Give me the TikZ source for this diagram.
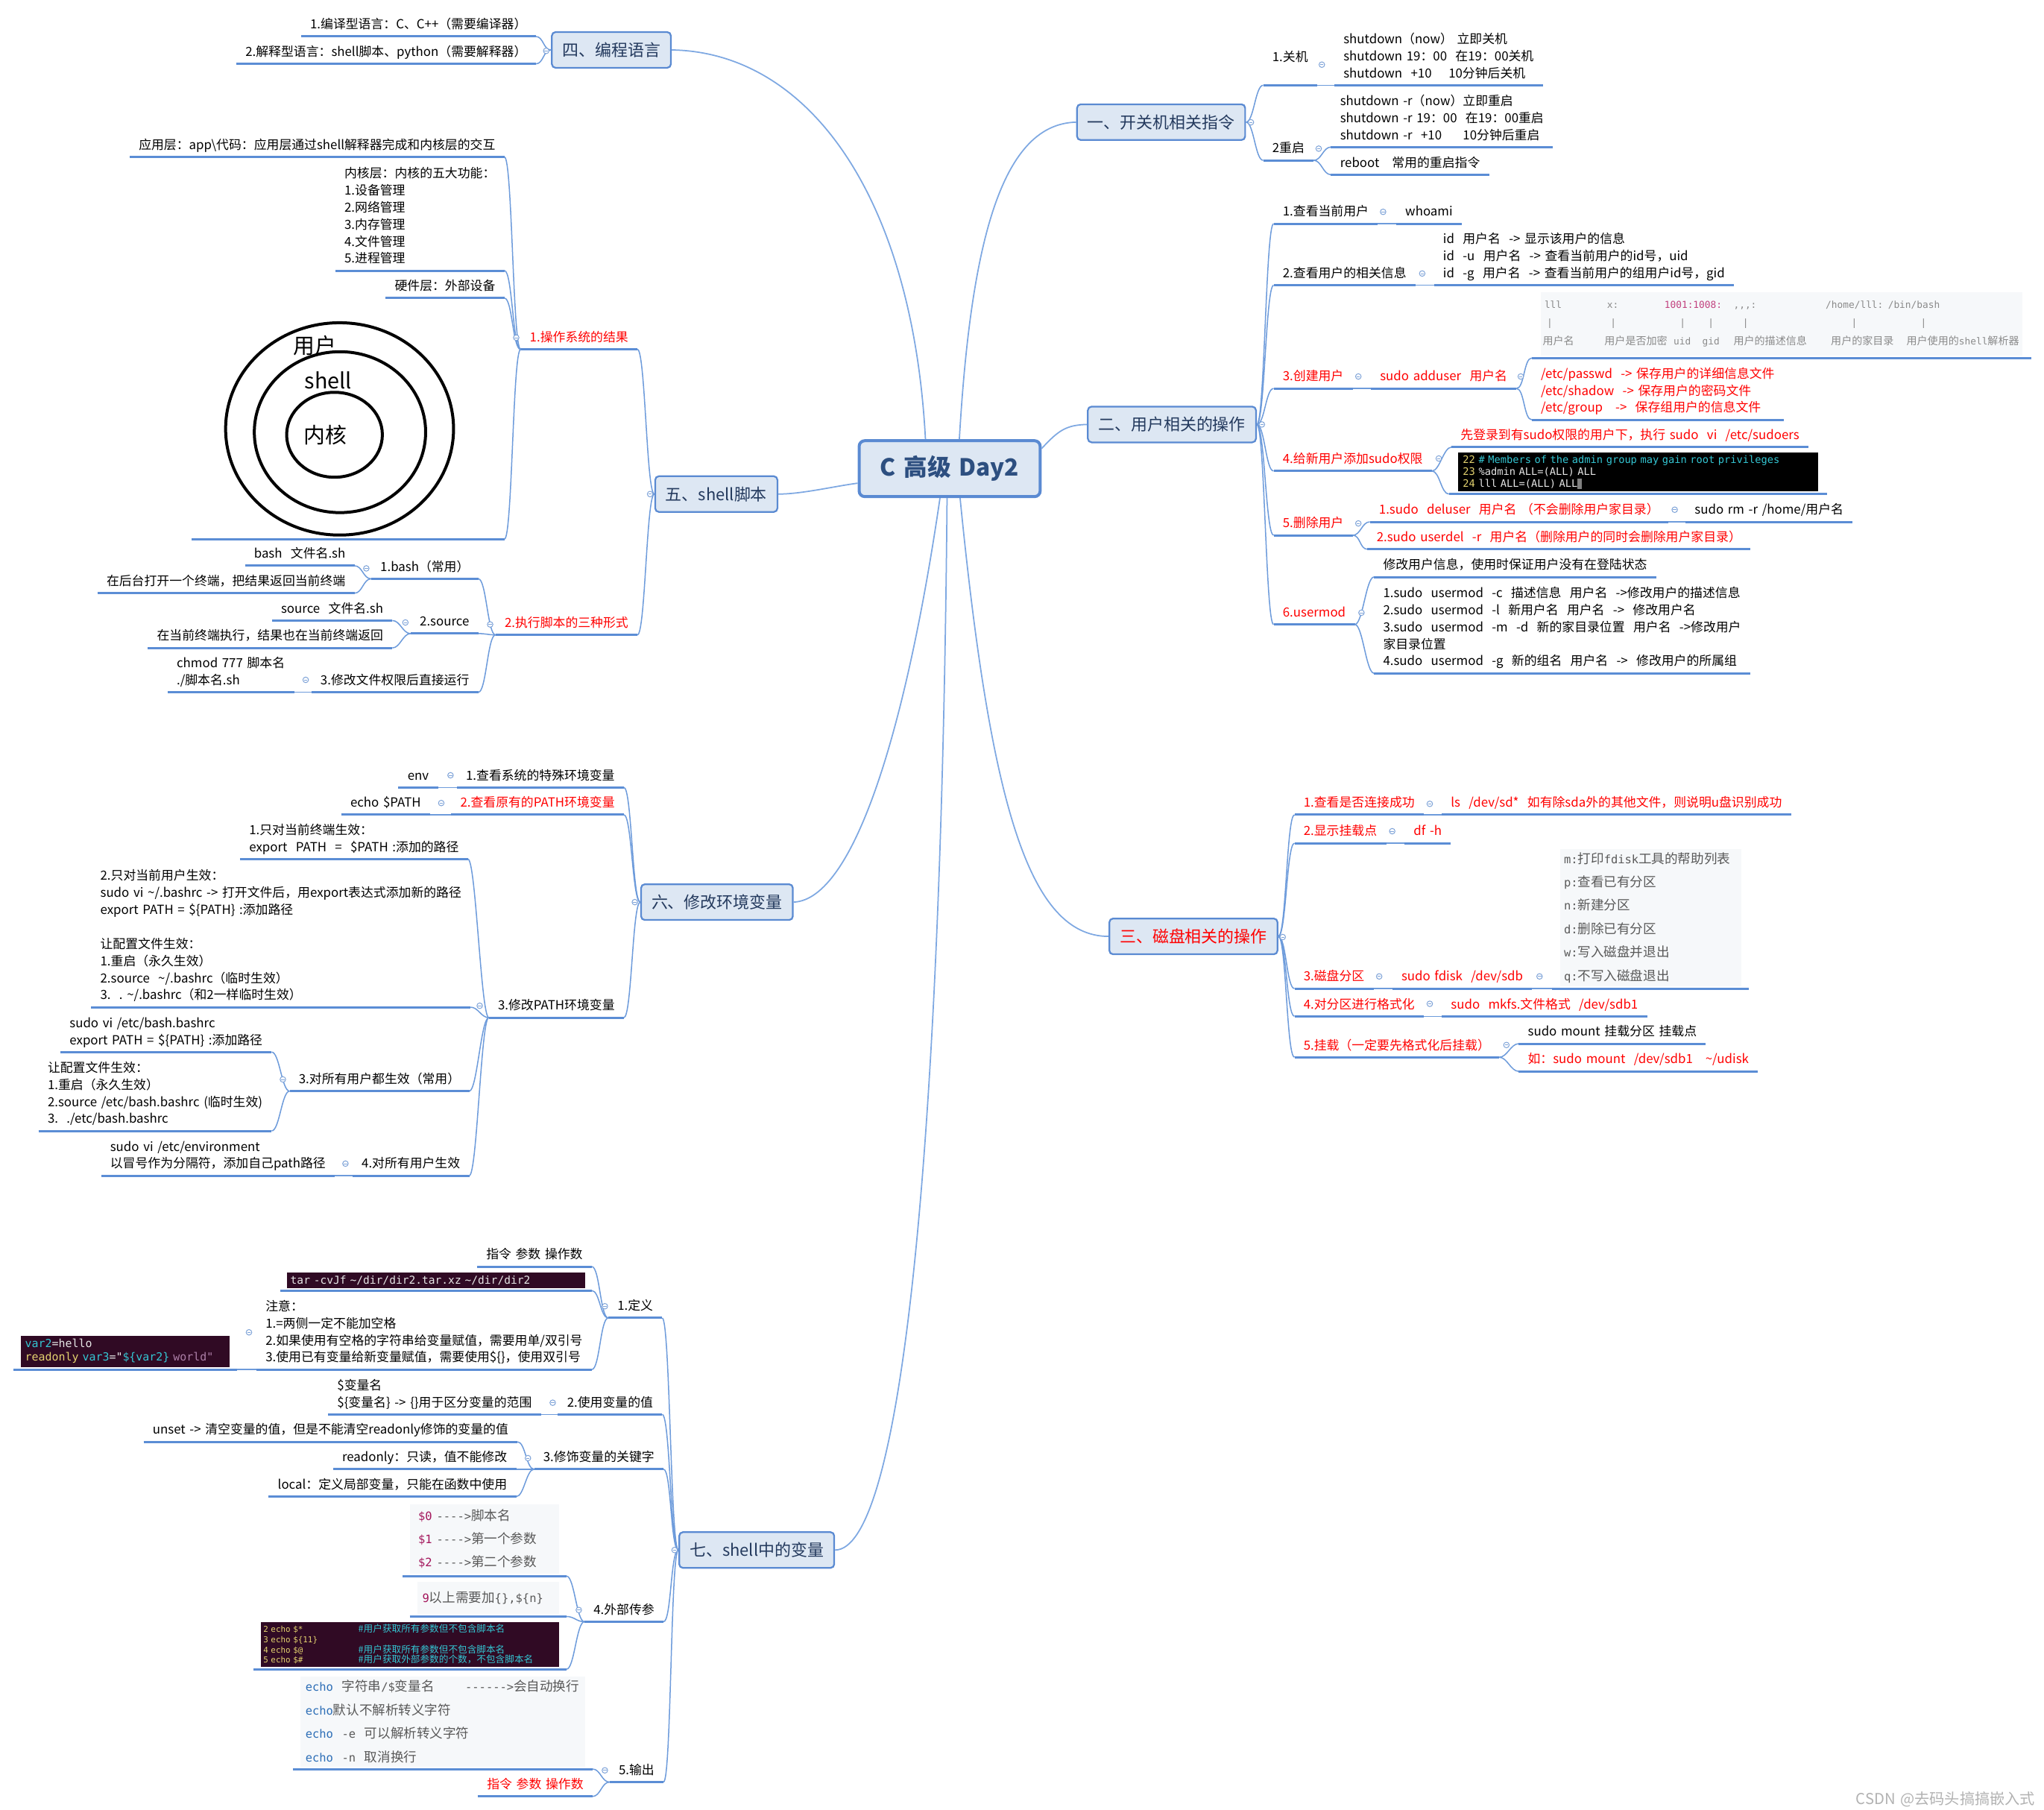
\documentclass[tikz,border=0pt]{standalone}
\usepackage{fontspec}
\setmainfont{Noto Sans CJK SC}[Ligatures=TeXOff, WordSpace=1.5]
\newfontfamily\codefont{DejaVu Sans Mono}[Ligatures=TeXOff]

\definecolor{ulc}{HTML}{5B8DD5}
\definecolor{linkc}{HTML}{6D9BDB}
\definecolor{trunkc}{HTML}{7EA8E2}
\definecolor{boxc}{HTML}{5A8AD2}
\definecolor{boxfill}{HTML}{DDE7F3}
\definecolor{boxtext}{HTML}{243A5E}
\definecolor{roottext}{HTML}{2D4F80}
\definecolor{foldc}{HTML}{7EA3D8}
\definecolor{codebg}{HTML}{F6F8FA}
\definecolor{codec}{HTML}{595959}
\definecolor{passc}{HTML}{8A8A8A}
\definecolor{pinkc}{HTML}{C2427F}
\definecolor{termbg}{HTML}{300A24}
\definecolor{termw}{HTML}{E6E6E6}
\definecolor{termy}{HTML}{E3D26F}
\definecolor{termc}{HTML}{34C6D3}
\definecolor{termp}{HTML}{AD7FA8}
\definecolor{dolc}{HTML}{A3155B}
\definecolor{echoc}{HTML}{2E6FB7}

\newcommand\lfont{\fontsize{9.6}{13}\selectfont}
\newcommand\cf{\codefont\fontsize{8.8}{17.9}\selectfont}
\newcommand\pz[1]{{\rmfamily\fontsize{8}{13.9}\selectfont #1}}
\newcommand\cpos[2]{\makebox[0pt][l]{\hspace*{#1}#2}}

\tikzset{
	link/.style = {draw = linkc, line width = 0.3mm},
	uline/.style = {draw = ulc, line width = 0.6mm},
	trunk/.style = {draw = trunkc, line width = 0.35mm},
	leaf/.style = {font = \lfont, align = left, inner xsep = 2.4mm, inner ysep = 0pt, text depth = 1.96mm,
		append after command = {(\tikzlastnode.south west) edge[uline] (\tikzlastnode.south east)}},
	rl/.style = {leaf, anchor = south west},
	ll/.style = {leaf, anchor = south east},
	panel/.style = {inner ysep = 0pt, outer xsep = 2mm, outer ysep = 0.7mm, align = left,
		append after command = {(\tikzlastnode.south west) edge[uline] (\tikzlastnode.south east)}},
	rbr/.style = {link, to path = {.. controls +(6, 0) and +(-6, 0) .. (\tikztotarget)}},
	lbr/.style = {link, to path = {.. controls +(-6, 0) and +(6, 0) .. (\tikztotarget)}},
	fold/.style = {circle, draw = foldc, line width = 0.2mm, fill = white, inner sep = 0pt, minimum size = 1.5mm,
		path picture = {\draw[foldc, line width = 0.15mm] ([xshift = -0.45mm]path picture bounding box.center) -- ([xshift = 0.45mm]path picture bounding box.center);}},
	branch/.style = {draw = boxc, fill = boxfill, line width = 0.45mm, rounded corners = 1mm, text = boxtext,
		font = \fontsize{12.5}{14}\selectfont, inner xsep = 2.8mm, minimum height = 9.6mm},
	root/.style = {draw = boxc, fill = boxfill, line width = 0.8mm, rounded corners = 1.5mm, text = roottext,
		font = \bfseries\fontsize{18}{20}\selectfont, minimum width = 48.6mm, minimum height = 15mm},
	ring/.style = {draw = black, line width = 0.8mm},
	ringtext/.style = {font = \fontsize{16.4}{18}\selectfont, inner sep = 0pt}
}

\begin{document}
\begin{tikzpicture}[x = 0.35mm, y = -0.35mm]
	
	\useasboundingbox[fill = white] (0, 0) rectangle (1568, 1388);
	
	\node[root] (root) at (728.5, 359.5) {C 高级 Day2};
	\node[branch] (b1) at (890.7, 93.7) {一、开关机相关指令};
	\node[branch] (b2) at (899, 325.6) {二、用户相关的操作};
	\node[branch, text = red] (b3) at (915.5, 718.3) {三、磁盘相关的操作};
	\node[branch] (b4) at (469, 38.3) {四、编程语言};
	\node[branch] (b5) at (549.5, 379) {五、shell脚本};
	\node[branch] (b6) at (550, 692) {六、修改环境变量};
	\node[branch] (b7) at (580.5, 1189) {七、shell中的变量};
	
	\draw[trunk] ([xshift = -6.5mm]root.north) .. controls (700, 150) and (620, 40) .. (b4.east);
	\draw[trunk] ([xshift = 2.6mm]root.north) .. controls (745, 180) and (770, 95) .. (b1.west);
	\draw[trunk] ([yshift = 5.4mm]root.east) .. controls (812, 330) and (818, 326) .. (b2.west);
	\draw[trunk] ([yshift = -3.9mm]root.west) .. controls (640, 373) and (615, 379) .. (b5.east);
	\draw[trunk] ([xshift = -2.6mm]root.south) .. controls (695, 560) and (655, 690) .. (b6.east);
	\draw[trunk] ([xshift = -0.7mm]root.south) .. controls (722, 900) and (690, 1189) .. (b7.east);
	\draw[trunk] ([xshift = 2.8mm]root.south) .. controls (760, 620) and (790, 718) .. (b3.west);
	
	% 一
	\node[rl, text depth = 6.37mm] (n11) at (969, 65.4) {1.关机};
	\node[rl] (n111) at (1023.6, 65.4) {shutdown（now）\ 立即关机\\shutdown 19：00\ \ 在19：00关机\\shutdown\ \ +10\ \ \ \ 10分钟后关机};
	\node[rl] (n12) at (969, 123) {2重启};
	\node[rl] (n121) at (1021, 112.8) {shutdown -r（now）立即重启\\shutdown -r 19：00\ \ 在19：00重启\\shutdown -r\ \ +10\ \ \ \ \ 10分钟后重启};
	\node[rl] (n122) at (1021, 134) {reboot\ \ \ 常用的重启指令};
	
	\path (b1.east) edge[rbr] (n11.south west) edge[rbr] (n12.south west);
	\path (n11.south east) edge[rbr] (n111.south west);
	\path (n12.south east) edge[rbr] (n121.south west) edge[rbr] (n122.south west);
	
	% 二
	\node[rl] (n21) at (977, 171.6) {1.查看当前用户};
	\node[rl] (n211) at (1071, 171.6) {whoami};
	\node[rl] (n22) at (977, 218.8) {2.查看用户的相关信息};
	\node[rl] (n221) at (1100, 218.8) {id\ \ 用户名\ \ -> 显示该用户的信息\\id\ \ -u\ \ 用户名\ \ -> 查看当前用户的id号，uid\\id\ \ -g\ \ 用户名\ \ -> 查看当前用户的组用户id号，gid};
	\node[rl, text = red] (n23) at (977, 298) {3.创建用户};
	\node[rl, text = red] (n231) at (1051.6, 298) {sudo adduser\ \ 用户名};
	\node[panel, anchor = south west, outer xsep = 2.45mm, fill = codebg, text = passc, font = \codefont\fontsize{7.3}{13.9}\selectfont,
		text width = 127.3mm, inner xsep = 1mm, minimum height = 17mm] (n2311) at (1175, 274.6)
		{\cpos{0mm}{lll}\cpos{16.8mm}{x:}\cpos{32.2mm}{\textcolor{pinkc}{1001:1008:}}\cpos{50.75mm}{,,,:}\cpos{75.5mm}{/home/lll: /bin/bash}\\
		\cpos{0.6mm}{|}\cpos{17.7mm}{|}\cpos{36.3mm}{|}\cpos{43.9mm}{|}\cpos{53.2mm}{|}\cpos{82.4mm}{|}\cpos{101mm}{|}\\
		\cpos{-0.5mm}{\pz{用户名}}\cpos{16.1mm}{\pz{用户是否加密}}\cpos{34.65mm}{uid}\cpos{42.35mm}{gid}\cpos{50.75mm}{\pz{用户的描述信息}}\cpos{76.9mm}{\pz{用户的家目录}}\cpos{97.2mm}{\pz{用户使用的}shell\pz{解析器}}};
	\node[rl, text = red] (n2312) at (1175, 322) {/etc/passwd\ \ -> 保存用户的详细信息文件\\/etc/shadow\ \ -> 保存用户的密码文件\\/etc/group\ \ \ ->\ \ 保存组用户的信息文件};
	\node[rl, text = red] (n24) at (977, 361.3) {4.给新用户添加sudo权限};
	\node[rl, text = red] (n241) at (1113.4, 343) {先登录到有sudo权限的用户下，执行 sudo\ \ vi\ \ /etc/sudoers};
	\node[panel, anchor = south west, outer xsep = 2.45mm, fill = black, text = termw, font = \codefont\fontsize{7.8}{9.1}\selectfont,
		text width = 94mm, inner xsep = 1.3mm, minimum height = 10.4mm] (n242) at (1111.5, 379)
		{\textcolor{termy}{22} \textcolor{termc}{\# Members of the admin group may gain root privileges}\\
		\textcolor{termy}{23} \%admin ALL=(ALL) ALL\\
		\textcolor{termy}{24} lll ALL=(ALL) ALL\textcolor{gray}{\rule[-0.5mm]{1.2mm}{2.8mm}}};
	\node[rl, text = red] (n25) at (977, 410.6) {5.删除用户};
	\node[rl, text = red] (n251) at (1050.8, 400.3) {1.sudo\ \ deluser\ \ 用户名 （不会删除用户家目录）};
	\node[rl] (n2511) at (1293, 400.3) {sudo rm -r /home/用户名};
	\node[rl, text = red] (n252) at (1049, 421.3) {2.sudo userdel\ \ -r\ \ 用户名（删除用户的同时会删除用户家目录）};
	\node[rl, text = red] (n26) at (977, 479) {6.usermod};
	\node[rl] (n261) at (1054, 442.6) {修改用户信息，使用时保证用户没有在登陆状态};
	\node[rl] (n262) at (1054, 516.4) {1.sudo\ \ usermod\ \ -c\ \ 描述信息\ \ 用户名\ \ ->修改用户的描述信息\\2.sudo\ \ usermod\ \ -l\ \ 新用户名\ \ 用户名\ \ ->\ \ 修改用户名\\3.sudo\ \ usermod\ \ -m\ \ -d\ \ 新的家目录位置\ \ 用户名\ \ ->修改用户\\家目录位置\\4.sudo\ \ usermod\ \ -g\ \ 新的组名\ \ 用户名\ \ ->\ \ 修改用户的所属组};
	
	\path (b2.east) edge[rbr] (n21.south west) edge[rbr] (n22.south west) edge[rbr] (n23.south west)
		edge[rbr] (n24.south west) edge[rbr] (n25.south west) edge[rbr] (n26.south west);
	\path (n21.south east) edge[rbr] (n211.south west);
	\path (n22.south east) edge[rbr] (n221.south west);
	\path (n23.south east) edge[rbr] (n231.south west);
	\path (n231.south east) edge[rbr] (n2311.south west) edge[rbr] (n2312.south west);
	\path (n24.south east) edge[rbr] (n241.south west) edge[rbr] (n242.south west);
	\path (n25.south east) edge[rbr] (n251.south west) edge[rbr] (n252.south west);
	\path (n251.south east) edge[rbr] (n2511.south west);
	\path (n26.south east) edge[rbr] (n261.south west) edge[rbr] (n262.south west);
	
	% 三
	\node[rl, text = red] (n31) at (993, 625) {1.查看是否连接成功};
	\node[rl, text = red] (n311) at (1106, 625) {ls\ \ /dev/sd*\ \ 如有除sda外的其他文件，则说明u盘识别成功};
	\node[rl, text = red] (n32) at (993, 646.8) {2.显示挂载点};
	\node[rl, text = red] (n321) at (1077.4, 646.8) {df -h};
	\node[rl, text = red] (n33) at (993, 758.3) {3.磁盘分区};
	\node[rl, text = red] (n331) at (1068, 758.3) {sudo fdisk\ \ /dev/sdb};
	\node[panel, anchor = south west, outer xsep = 2.1mm, fill = codebg, text = codec, font = \fontsize{10}{17.9}\selectfont,
		text width = 46.5mm, inner xsep = 1.1mm, minimum height = 36.7mm] (n3311) at (1190.6, 758.3)
		{{\cf m:}打印{\cf fdisk}工具的帮助列表\\{\cf p:}查看已有分区\\{\cf n:}新建分区\\{\cf d:}删除已有分区\\{\cf w:}写入磁盘并退出\\{\cf q:}不写入磁盘退出};
	\node[rl, text = red] (n34) at (993, 779.6) {4.对分区进行格式化};
	\node[rl, text = red] (n341) at (1106, 779.6) {sudo\ \ mkfs.文件格式\ \ /dev/sdb1};
	\node[rl, text = red] (n35) at (993, 811) {5.挂载（一定要先格式化后挂载）};
	\node[rl] (n351) at (1165, 800.6) {sudo mount 挂载分区 挂载点};
	\node[rl, text = red] (n352) at (1165, 821.8) {如：sudo mount\ \ /dev/sdb1\ \ \ \textasciitilde/udisk};
	
	\path (b3.east) edge[rbr] (n31.south west) edge[rbr] (n32.south west) edge[rbr] (n33.south west)
		edge[rbr] (n34.south west) edge[rbr] (n35.south west);
	\path (n31.south east) edge[rbr] (n311.south west);
	\path (n32.south east) edge[rbr] (n321.south west);
	\path (n33.south east) edge[rbr] (n331.south west);
	\path (n331.south east) edge[rbr] (n3311.south west);
	\path (n34.south east) edge[rbr] (n341.south west);
	\path (n35.south east) edge[rbr] (n351.south west) edge[rbr] (n352.south west);
	
	% 四
	\node[ll] (n41) at (411, 28) {1.编译型语言：C、C++（需要编译器）};
	\node[ll] (n42) at (411, 49) {2.解释型语言：shell脚本、python（需要解释器）};
	
	\path (b4.west) edge[lbr] (n41.south east) edge[lbr] (n42.south east);
	
	% 五
	\node[ll, text = red] (n51) at (489, 268) {1.操作系统的结果};
	\node[ll] (n511) at (387, 120.5) {应用层：app\textbackslash 代码：应用层通过shell解释器完成和内核层的交互};
	\node[ll] (n512) at (387, 207.6) {内核层：内核的五大功能：\\1.设备管理\\2.网络管理\\3.内存管理\\4.文件管理\\5.进程管理};
	\node[ll] (n513) at (387, 228.7) {硬件层：外部设备};
	\node[ll, minimum width = 83.8mm, minimum height = 55mm] (n514) at (387, 413.5) {};
	\draw[ring] (260.5, 329) ellipse [x radius = 30.6mm, y radius = 28.5mm];
	\draw[ring] (260.8, 331.5) ellipse [x radius = 23mm, y radius = 21.6mm];
	\draw[ring] (256.6, 333.5) ellipse [x radius = 12.85mm, y radius = 11.4mm];
	\node[ringtext] (tuser) at (241.5, 265) {用户};
	\node[ringtext] (tshell) at (251.7, 291.6) {shell};
	\node[ringtext] (tkern) at (249.7, 333.6) {内核};
	\node[ll, text = red] (n52) at (489, 487) {2.执行脚本的三种形式};
	\node[ll] (n521) at (367, 444) {1.bash（常用）};
	\node[ll] (n5211) at (272, 434) {bash\ \ 文件名.sh};
	\node[ll] (n5212) at (272, 455) {在后台打开一个终端，把结果返回当前终端};
	\node[ll] (n522) at (367, 486) {2.source};
	\node[ll] (n5221) at (301, 476) {source\ \ 文件名.sh};
	\node[ll] (n5222) at (301, 497) {在当前终端执行，结果也在当前终端返回};
	\node[ll] (n523) at (367, 531) {3.修改文件权限后直接运行};
	\node[ll] (n5231) at (225.6, 531) {chmod 777 脚本名\\./脚本名.sh};
	
	\path (b5.west) edge[lbr] (n51.south east) edge[lbr] (n52.south east);
	\path (n51.south west) edge[lbr] (n511.south east) edge[lbr] (n512.south east) edge[lbr] (n513.south east) edge[lbr] (n514.south east);
	\path (n52.south west) edge[lbr] (n521.south east) edge[lbr] (n522.south east) edge[lbr] (n523.south east);
	\path (n521.south west) edge[lbr] (n5211.south east) edge[lbr] (n5212.south east);
	\path (n522.south west) edge[lbr] (n5221.south east) edge[lbr] (n5222.south east);
	\path (n523.south west) edge[lbr] (n5231.south east);
	
	% 六
	\node[ll] (n61) at (478.6, 604) {1.查看系统的特殊环境变量};
	\node[ll] (n611) at (336, 604) {env};
	\node[ll, text = red] (n62) at (478.6, 625) {2.查看原有的PATH环境变量};
	\node[ll] (n621) at (330, 625) {echo \$PATH};
	\node[ll] (n63) at (478.6, 780.6) {3.修改PATH环境变量};
	\node[ll] (n631) at (359, 659) {1.只对当前终端生效：\\export\ \ PATH\ \ =\ \ \$PATH :添加的路径};
	\node[ll] (n632) at (361, 772.6) {2.只对当前用户生效：\\sudo vi \textasciitilde/.bashrc -> 打开文件后，用export表达式添加新的路径\\export PATH = \$\{PATH\} :添加路径\\[4.6mm]让配置文件生效：\\1.重启（永久生效）\\2.source\ \ \textasciitilde/.bashrc（临时生效）\\3.\ \ .\ \textasciitilde/.bashrc（和2一样临时生效）};
	\node[ll] (n633) at (360, 837) {3.对所有用户都生效（常用）};
	\node[ll] (n6331) at (208.4, 807) {sudo vi /etc/bash.bashrc\\export PATH = \$\{PATH\} :添加路径};
	\node[ll] (n6332) at (208.4, 867.5) {让配置文件生效：\\1.重启（永久生效）\\2.source /etc/bash.bashrc (临时生效)\\3.\ \ ./etc/bash.bashrc};
	\node[ll] (n634) at (360, 901.8) {4.对所有用户生效};
	\node[ll] (n6341) at (256.8, 901.8) {sudo vi /etc/environment\\以冒号作为分隔符，添加自己path路径};
	
	\path (b6.west) edge[lbr] (n61.south east) edge[lbr] (n62.south east) edge[lbr] (n63.south east);
	\path (n61.south west) edge[lbr] (n611.south east);
	\path (n62.south west) edge[lbr] (n621.south east);
	\path (n63.south west) edge[lbr] (n631.south east) edge[lbr] (n632.south east) edge[lbr] (n633.south east) edge[lbr] (n634.south east);
	\path (n633.south west) edge[lbr] (n6331.south east) edge[lbr] (n6332.south east);
	\path (n634.south west) edge[lbr] (n6341.south east);
	
	% 七
	\node[ll] (n71) at (508, 1011) {1.定义};
	\node[ll] (n711) at (454, 971.6) {指令 参数 操作数};
	\node[panel, anchor = south east, outer xsep = 1.75mm, fill = termbg, text = termw, font = \codefont\fontsize{8.3}{10}\selectfont,
		text width = 78.15mm, inner xsep = 1mm, minimum height = 4.2mm] (n712) at (454, 990)
		{tar -cvJf \textasciitilde/dir/dir2.tar.xz \textasciitilde/dir/dir2};
	\node[ll] (n713) at (454, 1050.5) {注意：\\1.=两侧一定不能加空格\\2.如果使用有空格的字符串给变量赋值，需要用单/双引号\\3.使用已有变量给新变量赋值，需要使用\$\{\}，使用双引号};
	\node[panel, anchor = south east, fill = termbg, text = termw, font = \codefont\fontsize{8.5}{10.1}\selectfont,
		text width = 53.8mm, inner xsep = 1.15mm, minimum height = 8.4mm] (n7131) at (182, 1050.5)
		{\textcolor{termc}{var2}=hello\\\textcolor{termy}{readonly} \textcolor{termc}{var3}="\textcolor{termc}{\$\{var2\}} \textcolor{termp}{world"}};
	\node[ll] (n72) at (508, 1085) {2.使用变量的值};
	\node[ll] (n721) at (415, 1085) {\$变量名\\\$\{变量名\} -> \{\}用于区分变量的范围};
	\node[ll] (n73) at (509, 1127) {3.修饰变量的关键字};
	\node[ll] (n731) at (397, 1106) {unset -> 清空变量的值，但是不能清空readonly修饰的变量的值};
	\node[ll] (n732) at (396, 1127) {readonly：只读，值不能修改};
	\node[ll] (n733) at (396, 1148) {local：定义局部变量，只能在函数中使用};
	\node[ll] (n74) at (509, 1244) {4.外部传参};
	\node[panel, anchor = south east, fill = codebg, text = codec, font = \fontsize{10}{17.9}\selectfont,
		text width = 35.6mm, inner xsep = 2.2mm, minimum height = 18.6mm] (n741) at (434.6, 1209)
		{{\cf\textcolor{dolc}{\$0} ---->}脚本名\\{\cf\textcolor{dolc}{\$1} ---->}第一个参数\\{\cf\textcolor{dolc}{\$2} ---->}第二个参数};
	\node[panel, anchor = south east, fill = codebg, text = codec, font = \fontsize{10}{12}\selectfont,
		text width = 35.3mm, inner xsep = 1.4mm, minimum height = 8.6mm] (n742) at (434.6, 1240)
		{{\cf\textcolor{dolc}{9}}以上需要加{\cf\{\},\$\{n\}}};
	\node[panel, anchor = south east, fill = termbg, text = termy, font = \codefont\fontsize{6.2}{7.8}\selectfont,
		text width = 78.8mm, inner xsep = 0.6mm, minimum height = 11.9mm] (n743) at (434.6, 1280.4)
		{\makebox[25.5mm][l]{2 echo \$*}\textcolor{termc}{\rmfamily\fontsize{7.2}{7.8}\selectfont\#用户获取所有参数但不包含脚本名}\\
		3 echo \$\{11\}\\
		\makebox[25.5mm][l]{4 echo \$@}\textcolor{termc}{\rmfamily\fontsize{7.2}{7.8}\selectfont\#用户获取所有参数但不包含脚本名}\\
		\makebox[25.5mm][l]{5 echo \$\#}\textcolor{termc}{\rmfamily\fontsize{7.2}{7.8}\selectfont\#用户获取外部参数的个数，不包含脚本名}};
	\node[ll] (n75) at (509, 1367) {5.输出};
	\node[panel, anchor = south east, fill = codebg, text = codec, font = \fontsize{10}{17.9}\selectfont,
		text width = 73.7mm, inner xsep = 1.4mm, minimum height = 24.15mm] (n751) at (454.6, 1357)
		{\makebox[42.9mm][l]{{\cf\textcolor{echoc}{echo}\ \ }字符串{\cf/\$}变量名}{\cf ------>}会自动换行\\
		{\cf\textcolor{echoc}{echo}}默认不解析转义字符\\
		{\cf\textcolor{echoc}{echo}\ \ -e\ \ }可以解析转义字符\\
		{\cf\textcolor{echoc}{echo}\ \ -n\ \ }取消换行};
	\node[ll, text = red] (n752) at (454.6, 1378) {指令 参数 操作数};
	
	\path (b7.west) edge[lbr] (n71.south east) edge[lbr] (n72.south east) edge[lbr] (n73.south east)
		edge[lbr] (n74.south east) edge[lbr] (n75.south east);
	\path (n71.south west) edge[lbr] (n711.south east) edge[lbr] (n712.south east) edge[lbr] (n713.south east);
	\path (n713.south west) edge[lbr] (n7131.south east);
	\path (n72.south west) edge[lbr] (n721.south east);
	\path (n73.south west) edge[lbr] (n731.south east) edge[lbr] (n732.south east) edge[lbr] (n733.south east);
	\path (n74.south west) edge[lbr] (n741.south east) edge[lbr] (n742.south east) edge[lbr] (n743.south east);
	\path (n75.south west) edge[lbr] (n751.south east) edge[lbr] (n752.south east);
	
	% fold markers
	\node[fold] (f1) at (959.6, 93.8) {};
	\node[fold] (f11) at (1014, 49.6) {};
	\node[fold] (f12) at (1011.6, 114) {};
	\node[fold] (f2) at (968, 325.6) {};
	\node[fold] (f21) at (1061, 162.5) {};
	\node[fold] (f22) at (1091, 209.8) {};
	\node[fold] (f23) at (1042, 288.8) {};
	\node[fold] (f231) at (1166.6, 288.8) {};
	\node[fold] (f24) at (1103.7, 351.7) {};
	\node[fold] (f25) at (1042, 401.5) {};
	\node[fold] (f251) at (1284.7, 391) {};
	\node[fold] (f26) at (1044.4, 470) {};
	\node[fold] (f3) at (984, 718.8) {};
	\node[fold] (f31) at (1096.8, 616.6) {};
	\node[fold] (f32) at (1068, 637.6) {};
	\node[fold] (f33) at (1058, 749) {};
	\node[fold] (f331) at (1181, 749) {};
	\node[fold] (f34) at (1096.8, 770) {};
	\node[fold] (f35) at (1155.6, 801.6) {};
	\node[fold] (f4) at (419, 39) {};
	\node[fold] (f5) at (498.7, 379) {};
	\node[fold] (f51) at (396, 259) {};
	\node[fold] (f52) at (376, 479) {};
	\node[fold] (f521) at (281, 436) {};
	\node[fold] (f522) at (311, 477.5) {};
	\node[fold] (f523) at (234.5, 521.5) {};
	\node[fold] (f6) at (487, 692) {};
	\node[fold] (f61) at (345.6, 594.7) {};
	\node[fold] (f62) at (338.5, 616) {};
	\node[fold] (f63) at (368, 771.5) {};
	\node[fold] (f633) at (217, 828) {};
	\node[fold] (f634) at (265, 892.6) {};
	\node[fold] (f7) at (517.5, 1189) {};
	\node[fold] (f71) at (464, 1002) {};
	\node[fold] (f713) at (191, 1022) {};
	\node[fold] (f72) at (424, 1076) {};
	\node[fold] (f73) at (405, 1118.5) {};
	\node[fold] (f74) at (444, 1235) {};
	\node[fold] (f75) at (464, 1358) {};
	
	\node[text = gray!60, font = \fontsize{11.5}{13}\selectfont] (wmark) at (1492.5, 1380) {CSDN @去码头搞搞嵌入式};
	
\end{tikzpicture}
\end{document}
